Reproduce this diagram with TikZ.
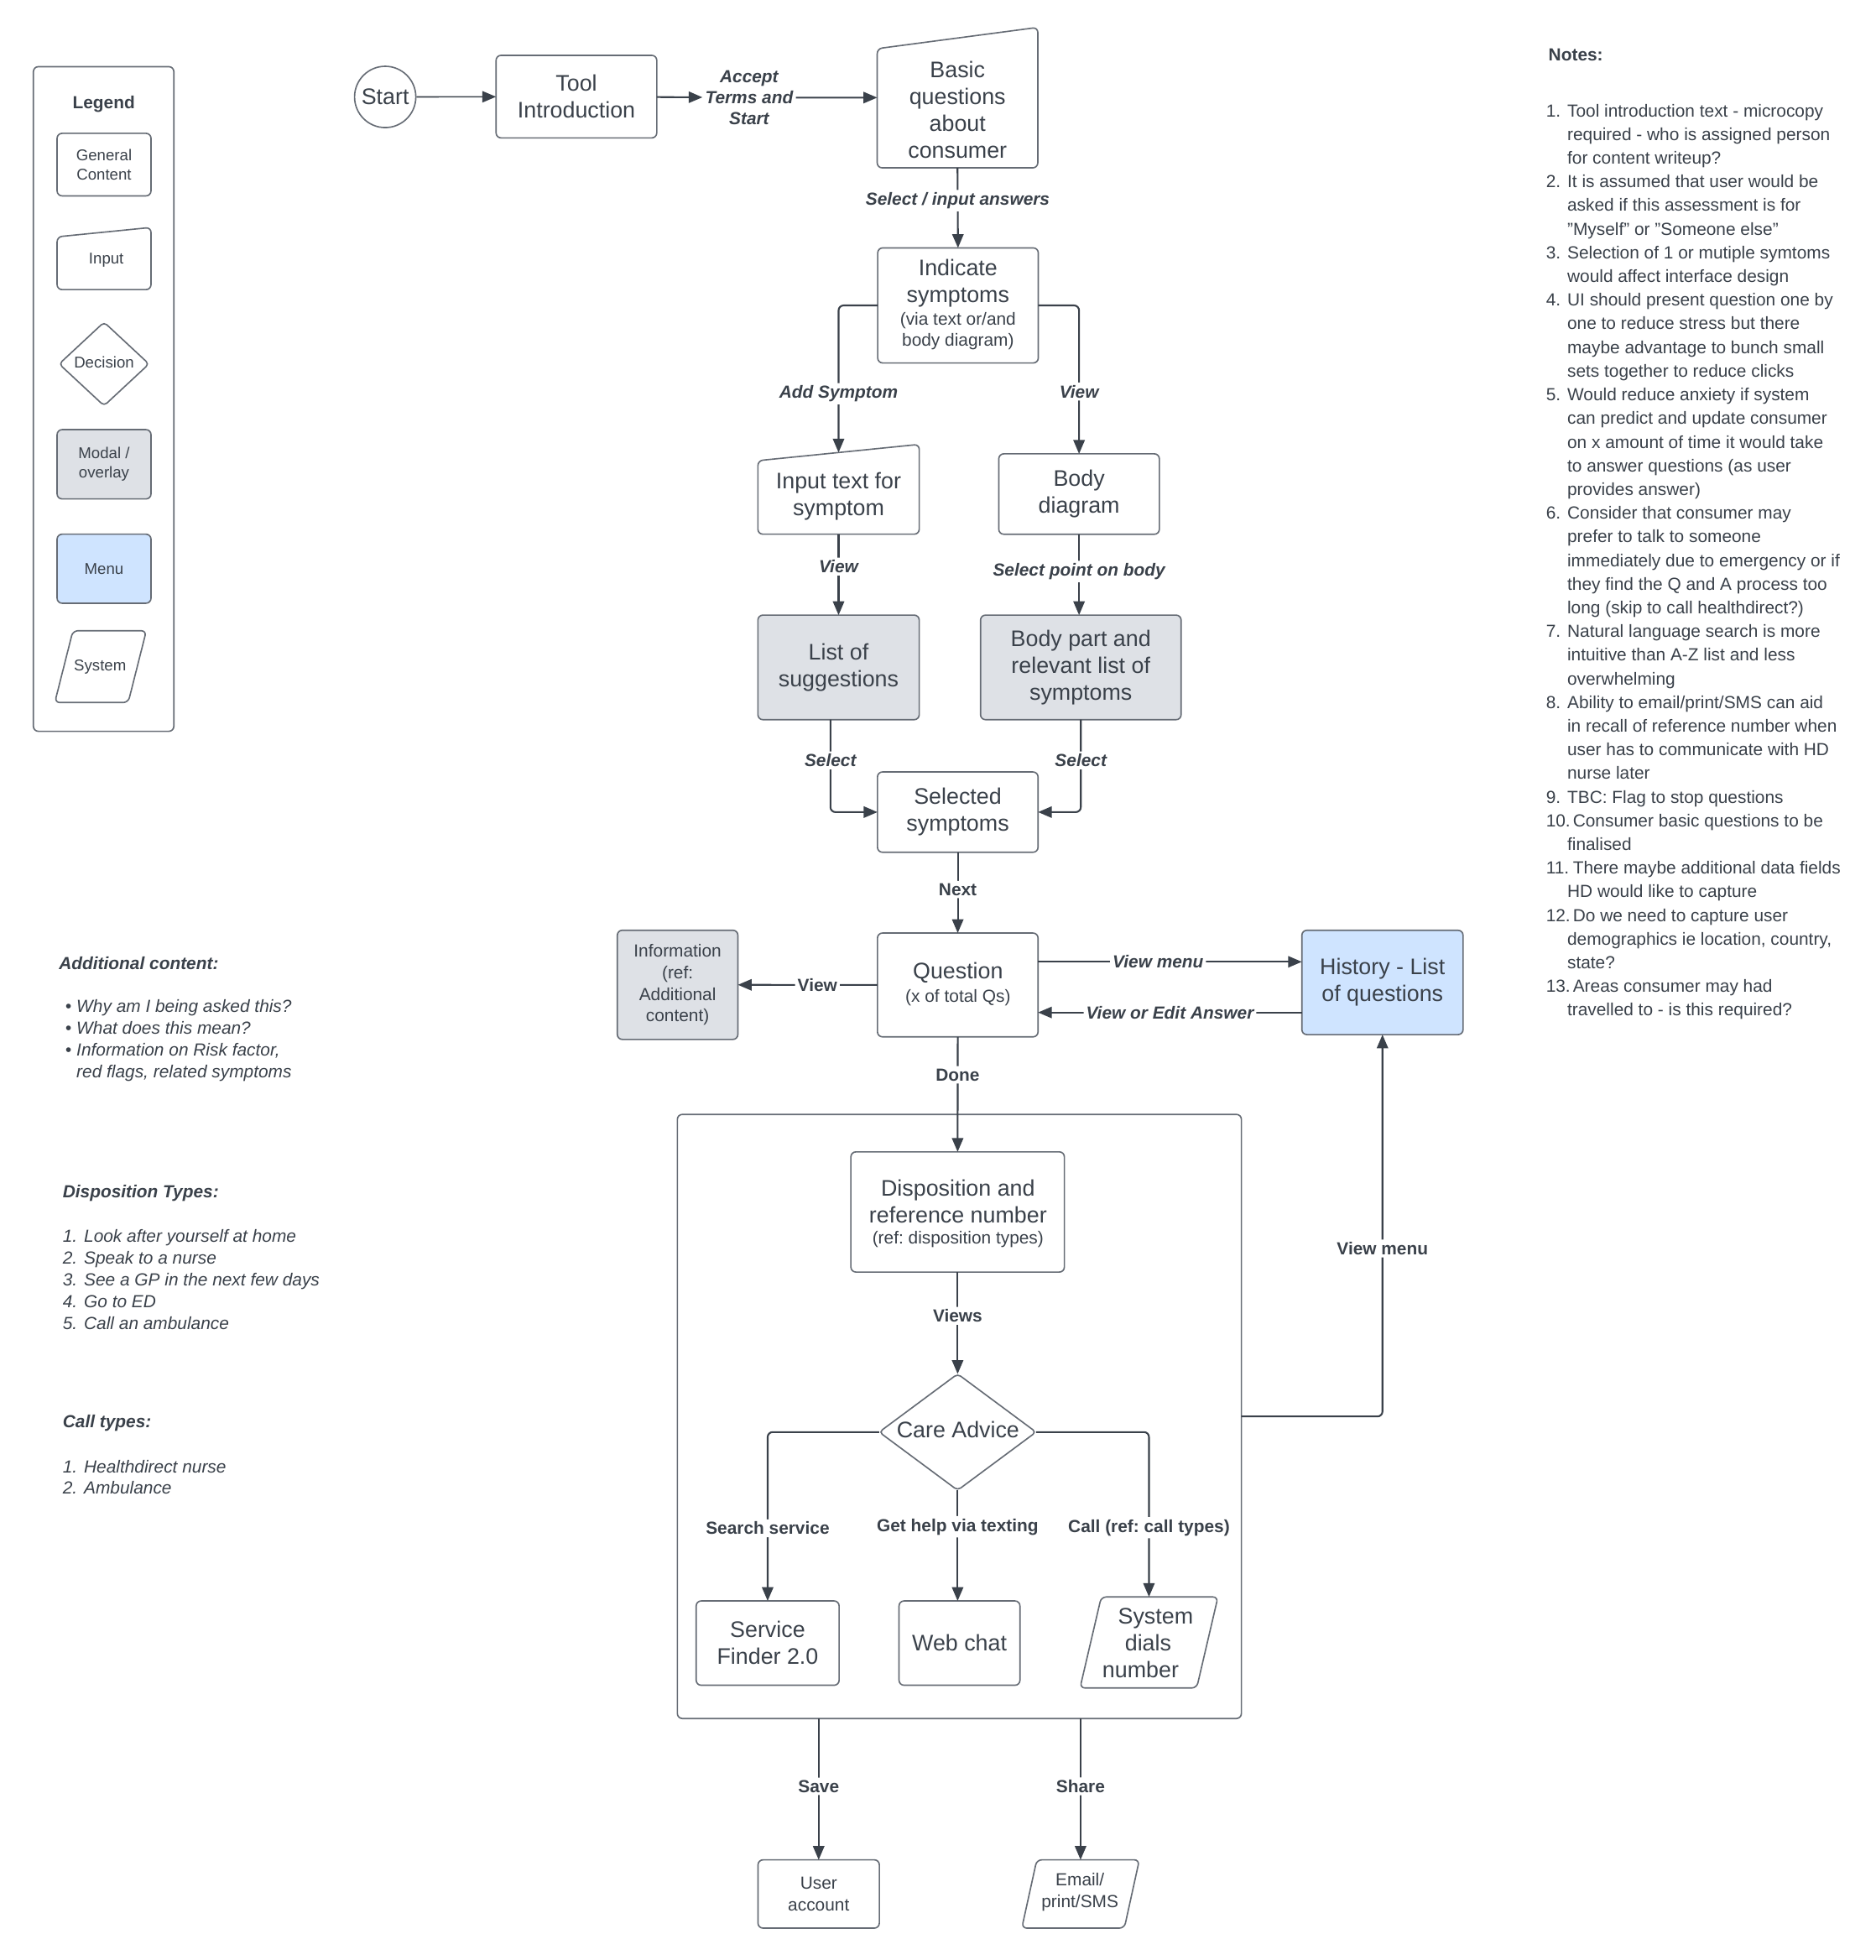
\documentclass[tikz,border=0pt]{standalone}
\usepackage{fontspec}
\setmainfont{Liberation Sans}
\usetikzlibrary{arrows.meta,calc}
\definecolor{txt}{HTML}{3A414A}
\definecolor{ln}{HTML}{3A414A}
\definecolor{bord}{HTML}{666C75}
\definecolor{modal}{HTML}{DEE1E6}
\definecolor{menu}{HTML}{CFE4FF}
\newcommand\nb[1]{\makebox[17pt][l]{#1}}
\newcommand\nbb[1]{\makebox[21.5pt][l]{#1}}
\newcommand\nc{\hspace*{17pt}}
\newcommand\bu{\makebox[9pt][l]{\textbullet}}
\begin{document}
\frenchspacing
\begin{tikzpicture}[x=1pt,y=-1pt,
 box/.style={draw=bord, line width=1.1pt, rounded corners=4pt, fill=white, inner sep=0pt, outer sep=0pt, text=txt, align=center},
 bb/.style={inner sep=0pt, outer sep=0pt},
 shp/.style={draw=bord, line width=1.1pt, rounded corners=4pt, fill=white},
 big/.style={font=\fontsize{18}{21.5}\selectfont, text=txt, align=center},
 sml/.style={font=\fontsize{14}{17.3}\selectfont, text=txt, align=center},
 tny/.style={font=\fontsize{12.5}{15}\selectfont, text=txt, align=center},
 conn/.style={draw=ln, line width=1.4pt, rounded corners=4pt, -{Triangle[length=11pt,width=9pt]}},
 lbi/.style={fill=white, text=txt, inner sep=2pt, font=\fontsize{14}{17}\selectfont\bfseries\itshape, align=center},
 lbu/.style={fill=white, text=txt, inner sep=2pt, font=\fontsize{14}{17}\selectfont\bfseries, align=center},
 head/.style={anchor=west, text=txt, font=\fontsize{14}{17}\selectfont\bfseries\itshape, inner sep=0pt},
 para/.style={anchor=north west, align=left, text=txt, inner sep=0pt, font=\fontsize{14}{17.4}\selectfont\itshape},
 ]
\fill[white] (0,0) rectangle (1500,1567.1);
\useasboundingbox (0,0) rectangle (1500,1567.1);

% ---------- Legend ----------
\node[box, minimum width=112.3pt, minimum height=531.4pt] (legend) at (82.85,319) {};
\node[font=\fontsize{14}{17}\selectfont\bfseries, text=txt] (legendt) at (83,83) {Legend};
\node[box, tny, minimum width=75.1pt, minimum height=50pt] (lg1) at (83.2,131.6) {General\\Content};
\node[bb, minimum width=75.1pt, minimum height=49.7pt] (lg2) at (83.2,206.7) {};
\draw[shp] (lg2.south west) -- ($(lg2.north west)+(0,7.5)$) -- (lg2.north east) -- (lg2.south east) -- cycle;
\node[tny] (lg2t) at (85,208) {Input};
\node[bb, minimum width=71.8pt, minimum height=66.8pt] (lg3) at (83.2,291) {};
\draw[shp, rounded corners=3pt] (lg3.west) -- (lg3.north) -- (lg3.east) -- (lg3.south) -- cycle;
\node[tny] (lg3t) at (83.2,290) {Decision};
\node[box, tny, fill=modal, minimum width=75.1pt, minimum height=55.4pt] (lg4) at (83.2,371.2) {Modal /\\overlay};
\node[box, tny, fill=menu, minimum width=75.1pt, minimum height=55.2pt] (lg5) at (83.2,454.7) {Menu};
\node[bb, minimum width=73.2pt, minimum height=57.4pt] (lg6) at (80.4,533) {};
\draw[shp] (lg6.south west) -- ($(lg6.north west)+(14.5,0)$) -- (lg6.north east) -- ($(lg6.south east)+(-14.5,0)$) -- cycle;
\node[tny] (lg6t) at (80,533) {System};

% ---------- Top flow ----------
\node[circle, draw=bord, line width=1.1pt, fill=white, minimum size=49pt, inner sep=0pt, big] (start) at (308,77.5) {Start};
\node[box, big, minimum width=128.5pt, minimum height=66pt] (tool) at (460.9,77.25) {Tool\\Introduction};
\node[lbi] (acc) at (599,78) {Accept\\Terms and\\Start};
\node[bb, minimum width=128.4pt, minimum height=112.3pt] (basic) at (765.6,78.05) {};
\draw[shp] (basic.south west) -- ($(basic.north west)+(0,17)$) -- (basic.north east) -- (basic.south east) -- cycle;
\node[big] (basict) at ($(basic.center)+(0,9.5)$) {Basic\\questions\\about\\consumer};
\draw[conn, line width=1.1pt] (start) -- (tool);
\draw[conn] (tool) -- (acc);
\draw[conn] (acc) -- (basic);

\node[box, minimum width=128.4pt, minimum height=92pt] (ind) at (766,244.2) {};
\node[big] (indt1) at (766,226.5) {Indicate\\symptoms};
\node[sml, font=\fontsize{14}{17}\selectfont] (indt2) at (766,264.5) {(via text or/and\\body diagram)};
\draw[conn] (basic.south) -- node[lbi, pos=0.41]{Select / input answers} (ind.north);

\node[bb, minimum width=129pt, minimum height=71.8pt] (inp) at (670.5,391.2) {};
\draw[shp] (inp.south west) -- ($(inp.north west)+(0,13)$) -- (inp.north east) -- (inp.south east) -- cycle;
\node[big] (inpt) at (670.5,397) {Input text for\\symptom};
\coordinate (inptop) at ($(inp.north)+(0,6.5)$);
\node[box, big, minimum width=128.4pt, minimum height=64.3pt] (body) at (862.8,395) {Body\\diagram};
\draw[conn] (ind.west) -| node[lbi, pos=0.8]{Add Symptom} (inptop);
\draw[conn] (ind.east) -| node[lbi, pos=0.79]{View} (body.north);

\node[box, big, fill=modal, minimum width=129pt, minimum height=83.6pt] (list) at (670.5,533.6) {List of\\suggestions};
\node[box, big, fill=modal, minimum width=160.4pt, minimum height=83.6pt] (bp) at (864.2,533.6) {Body part and\\relevant list of\\symptoms};
\draw[conn] (inp.south) -- node[lbi, pos=0.4]{View} (list.north);
\draw[conn] (body.south) -- node[lbi, pos=0.46]{Select point on body} (body.south |- bp.north);

\node[box, big, minimum width=128.4pt, minimum height=64.2pt] (sel) at (765.8,649.3) {Selected\\symptoms};
\draw[conn] ([xshift=-6.5pt]list.south) |- node[lbi, pos=0.22]{Select} (sel.west);
\draw[conn] (bp.south) |- node[lbi, pos=0.22]{Select} (sel.east);

\node[box, minimum width=128.4pt, minimum height=83pt] (q) at (765.8,787.5) {};
\node[big] (qt1) at (766,778) {Question};
\node[sml] (qt2) at (766,797.5) {(x of total Qs)};
\draw[conn] (sel.south) -- node[lbu, pos=0.46]{Next} (q.north);
\node[box, sml, fill=modal, minimum width=96.4pt, minimum height=87.3pt] (info) at (541.8,787.4) {Information\\(ref:\\Additional\\content)};
\draw[conn] (q.west) -- node[lbu, pos=0.43]{View} (info.east);
\node[box, big, fill=menu, minimum width=128.9pt, minimum height=83.4pt] (hist) at (1105.4,785.5) {History - List\\of questions};
\draw[conn] ([yshift=18.5pt]q.east) -- node[lbi, pos=0.455]{View menu} ([yshift=16.5pt]hist.west);
\draw[conn] ([yshift=-24pt]hist.west) -- node[lbi, pos=0.5]{View or Edit Answer} ([yshift=-22pt]q.east);

% ---------- Container ----------
\node[box, minimum width=451pt, minimum height=483pt] (cont) at (767.1,1132.5) {};
\node[box, minimum width=170.7pt, minimum height=96.1pt] (disp) at (765.7,969) {};
\node[big] (dispt1) at (766,960.5) {Disposition and\\reference number};
\node[sml] (dispt2) at (766,991) {(ref: disposition types)};
\draw[conn] (q.south) -- node[lbu, pos=0.33]{Done} (disp.north);
\node[bb, minimum width=125.4pt, minimum height=93pt] (ca) at (765.7,1145) {};
\draw[shp, rounded corners=3pt] (ca.west) -- (ca.north) -- (ca.east) -- (ca.south) -- cycle;
\node[big] (cat) at (766,1143) {Care Advice};
\draw[conn] (disp.south) -- node[lbu, pos=0.43]{Views} (ca.north);

\node[box, big, minimum width=114.3pt, minimum height=67.4pt] (sf) at (613.8,1313.7) {Service\\Finder 2.0};
\node[box, big, minimum width=96.7pt, minimum height=67.4pt] (wc) at (767.2,1313.7) {Web chat};
\node[bb, minimum width=110.3pt, minimum height=72.8pt] (sys) at (918.7,1313.2) {};
\draw[shp] (sys.south west) -- ($(sys.north west)+(17,0)$) -- (sys.north east) -- ($(sys.south east)+(-17,0)$) -- cycle;
\node[big] (syst) at (918,1313.5) {\hspace*{12pt}System\\dials\\number\hspace*{12pt}};
\draw[conn] (ca.west) -| node[lbu, pos=0.785]{Search service} (sf.north);
\draw[conn] (ca.south) -- node[lbu, pos=0.33]{Get help via texting} (ca.south |- wc.north);
\draw[conn] (ca.east) -| node[lbu, pos=0.79]{Call (ref: call types)} (sys.north);
\draw[conn] (cont.east) -| node[lbu, pos=0.72]{View menu} (hist.south);

\node[box, sml, minimum width=97pt, minimum height=54.6pt] (ua) at (654.6,1514.3) {User\\account};
\node[bb, minimum width=94pt, minimum height=54.6pt] (em) at (864,1514.3) {};
\draw[shp] (em.south west) -- ($(em.north west)+(12,0)$) -- (em.north east) -- ($(em.south east)+(-12,0)$) -- cycle;
\node[sml] (emt) at (863.5,1513) {Email/\\print/SMS};
\draw[conn] (ua.north |- cont.south) -- node[lbu, pos=0.48]{Save} (ua.north);
\draw[conn] (em.north |- cont.south) -- node[lbu, pos=0.48]{Share} (em.north);

% ---------- Left texts ----------
\node[head] (addh) at (47,770) {Additional content:};
\node[para] (addl) at (52,799) {\bu Why am I being asked this?\\\bu What does this mean?\\\bu Information on Risk factor,\\\hspace*{9pt}red flags, related symptoms};
\node[head] (disph) at (50,954) {Disposition Types:};
\node[para] (displ) at (50,983) {\nb{1.}Look after yourself at home\\\nb{2.}Speak to a nurse\\\nb{3.}See a GP in the next few days\\\nb{4.}Go to ED\\\nb{5.}Call an ambulance};
\node[head] (callh) at (50,1138) {Call types:};
\node[para] (calll) at (50,1167) {\nb{1.}Healthdirect nurse\\\nb{2.}Ambulance};

% ---------- Notes ----------
\node[anchor=west, text=txt, font=\fontsize{14}{17}\selectfont\bfseries, inner sep=0pt] (notesh) at (1238,44) {Notes:};
\node[anchor=north west, align=left, text=txt, inner sep=0pt, font=\fontsize{14}{18.92}\selectfont] (notes) at (1236,83) {%
\nb{1.}Tool introduction text - microcopy\\
\nc required - who is assigned person\\
\nc for content writeup?\\
\nb{2.}It is assumed that user would be\\
\nc asked if this assessment is for\\
\nc "Myself" or "Someone else"\\
\nb{3.}Selection of 1 or mutiple symtoms\\
\nc would affect interface design\\
\nb{4.}UI should present question one by\\
\nc one to reduce stress but there\\
\nc maybe advantage to bunch small\\
\nc sets together to reduce clicks\\
\nb{5.}Would reduce anxiety if system\\
\nc can predict and update consumer\\
\nc on x amount of time it would take\\
\nc to answer questions (as user\\
\nc provides answer)\\
\nb{6.}Consider that consumer may\\
\nc prefer to talk to someone\\
\nc immediately due to emergency or if\\
\nc they find the Q and A process too\\
\nc long (skip to call healthdirect?)\\
\nb{7.}Natural language search is more\\
\nc intuitive than A-Z list and less\\
\nc overwhelming\\
\nb{8.}Ability to email/print/SMS can aid\\
\nc in recall of reference number when\\
\nc user has to communicate with HD\\
\nc nurse later\\
\nb{9.}TBC: Flag to stop questions\\
\nbb{10.}Consumer basic questions to be\\
\nc finalised\\
\nbb{11.}There maybe additional data fields\\
\nc HD would like to capture\\
\nbb{12.}Do we need to capture user\\
\nc demographics ie location, country,\\
\nc state?\\
\nbb{13.}Areas consumer may had\\
\nc travelled to - is this required?};
\end{tikzpicture}
\end{document}
